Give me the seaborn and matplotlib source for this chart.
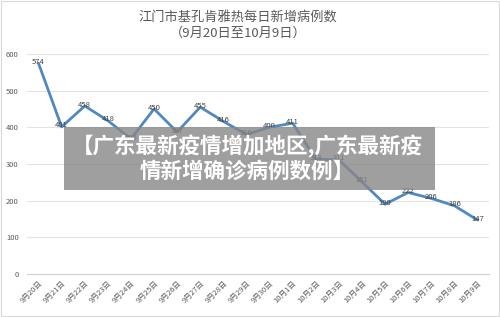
import matplotlib
matplotlib.use("Agg")
import matplotlib.pyplot as plt
import seaborn as sns
import pandas as pd
from matplotlib.patches import Rectangle

dates = ["9月20日", "9月21日", "9月22日", "9月23日", "9月24日", "9月25日", "9月26日",
         "9月27日", "9月28日", "9月29日", "9月30日", "10月1日", "10月2日", "10月3日",
         "10月4日", "10月5日", "10月6日", "10月7日", "10月8日", "10月9日"]
cases = [574, 401, 458, 418, 368, 450, 387, 455, 416, 380, 400, 411, 313, 311,
         251, 190, 222, 206, 186, 147]
yticks = [0, 100, 200, 300, 400, 500, 600]
title1 = "江门市基孔肯雅热每日新增病例数"
title2 = "（9月20日至10月9日）"
overlay = "【广东最新疫情增加地区,广东最新疫\n情新增确诊病例数例】"

sns.set_theme(style="white")
plt.rcParams['font.family'] = ['Noto Sans CJK SC', 'DejaVu Sans']

df = pd.DataFrame({"date": dates, "cases": cases})

fig = plt.figure(figsize=(5, 3.17), dpi=100)
fig.patch.set_facecolor("white")
ax = fig.add_axes([0.054, 0.136, 0.924, 0.694])

sns.lineplot(data=df, x="date", y="cases", ax=ax, sort=False,
             color="#5089c0", linewidth=2.0, zorder=3)

ax.set_ylim(0, 600)
ax.set_xlim(-0.5, len(dates) - 0.5)
ax.set_yticks(yticks)
ax.set_yticklabels([str(v) for v in yticks], fontsize=5.5, color="#595959")
ax.yaxis.grid(True, color="#e3e3e3", linewidth=0.8)
ax.set_axisbelow(True)
ax.set_xlabel("")
ax.set_ylabel("")
for s in ["top", "right", "left"]:
    ax.spines[s].set_visible(False)
ax.spines["bottom"].set_color("#d0d0d0")
ax.spines["bottom"].set_linewidth(0.8)
ax.set_xticks(range(len(dates)))
ax.set_xticklabels(dates, rotation=45, ha="right", rotation_mode="anchor",
                   fontsize=5.5, color="#595959")
ax.set_xticks([i - 0.5 for i in range(len(dates) + 1)], minor=True)
ax.tick_params(axis="x", which="major", length=0, pad=4)
ax.tick_params(axis="x", which="minor", length=3, color="#d0d0d0", width=0.8)
ax.tick_params(axis="y", length=0, pad=6)

for i, v in enumerate(cases):
    ax.annotate(str(v), (i, v), xytext=(0, 1), textcoords="offset points",
                ha="center", va="center", fontsize=5.5, color="#404040", zorder=4)

fig.text(0.476, 0.943, title1, ha="center", va="center", fontsize=9.5, color="#595959")
fig.text(0.476, 0.896, title2, ha="center", va="center", fontsize=9.5, color="#595959")

fig.patches.append(Rectangle((0.128, 0.401), 0.742, 0.199, transform=fig.transFigure,
                             facecolor="#878787", alpha=0.8, edgecolor="none", zorder=10))
fig.text(0.495, 0.5, overlay, ha="center", va="center", fontsize=15.5, fontweight="bold",
         color="white", linespacing=1.15, zorder=11)

fig.patches.append(Rectangle((0.002, 0.004), 0.996, 0.992, transform=fig.transFigure,
                             facecolor="none", edgecolor="#d9d9d9", linewidth=0.8, zorder=12))

fig.savefig("out.png", dpi=100)
